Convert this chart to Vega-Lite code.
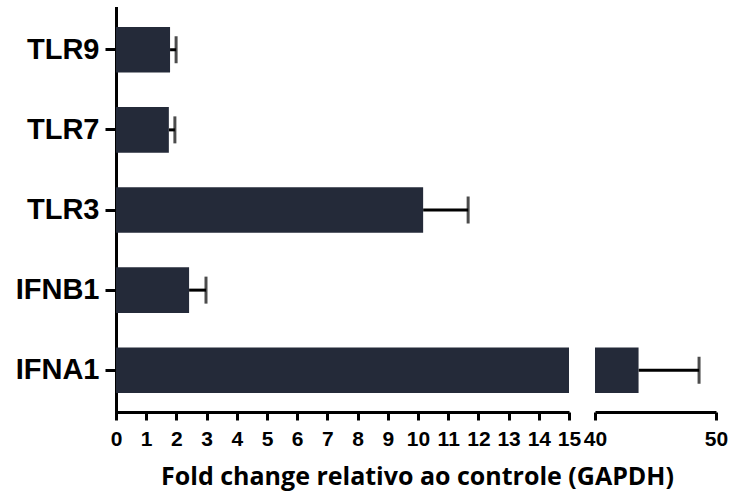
{
  "$schema": "https://vega.github.io/schema/vega-lite/v6.json",
  "background": "white",
  "padding": {"left": 15, "top": 8, "right": 5, "bottom": 5},
  "spacing": 26,
  "bounds": "flush",
  "data": {
    "values": [
      {"gene": "TLR9", "value": 1.79, "upper": 1.99},
      {"gene": "TLR7", "value": 1.75, "upper": 1.95},
      {"gene": "TLR3", "value": 10.17, "upper": 11.66},
      {"gene": "IFNB1", "value": 2.42, "upper": 2.98},
      {"gene": "IFNA1", "value": 43.6, "upper": 48.6}
    ]
  },
  "config": {
    "view": {"stroke": null},
    "axis": {"grid": false, "domainColor": "black", "tickColor": "black", "domainWidth": 3, "tickWidth": 3, "labelColor": "black", "titleColor": "black", "labelOverlap": false}
  },
  "hconcat": [
    {
      "width": 453,
      "height": 404,
      "encoding": {
        "y": {
          "field": "gene", "type": "nominal",
          "sort": ["TLR9", "TLR7", "TLR3", "IFNB1", "IFNA1"],
          "scale": {"paddingInner": 0.43, "paddingOuter": 0.236},
          "axis": {"title": null, "labelFont": "Liberation Sans", "labelFontWeight": "bold", "labelFontSize": 29, "tickSize": 11, "labelPadding": 6, "domainCap": "square"}
        }
      },
      "layer": [
        {
          "mark": {"type": "rule", "color": "black", "strokeWidth": 3, "clip": true},
          "encoding": {
            "x": {"field": "value", "type": "quantitative", "scale": {"domain": [0, 15], "nice": false, "zero": false},
              "axis": {"values": [0,1,2,3,4,5,6,7,8,9,10,11,12,13,14,15], "labelFont": "Liberation Sans", "labelFontWeight": "bold", "labelFontSize": 21, "tickSize": 8, "labelPadding": 8, "labelFlush": false, "labelOverlap": false,
                "title": "Fold change relativo ao controle (GAPDH)", "titleFont": "Open Sans", "titleFontWeight": "bold", "titleFontSize": 25, "titleX": 301, "titleY": 72, "titleBaseline": "alphabetic", "titleAlign": "center", "titleAnchor": null}},
            "x2": {"field": "upper"}
          }
        },
        {
          "mark": {"type": "bar", "color": "#242a39", "clip": true},
          "encoding": {
            "x": {"field": "value", "type": "quantitative", "scale": {"domain": [0, 15], "nice": false, "zero": false},
              "axis": {"values": [0,1,2,3,4,5,6,7,8,9,10,11,12,13,14,15], "labelFont": "Liberation Sans", "labelFontWeight": "bold", "labelFontSize": 21, "tickSize": 8, "labelPadding": 8, "labelFlush": false, "labelOverlap": false,
                "title": "Fold change relativo ao controle (GAPDH)", "titleFont": "Open Sans", "titleFontWeight": "bold", "titleFontSize": 25, "titleX": 301, "titleY": 72, "titleBaseline": "alphabetic", "titleAlign": "center", "titleAnchor": null}}
          }
        },
        {
          "mark": {"type": "tick", "color": "black", "size": 27, "thickness": 3, "clip": true},
          "encoding": {
            "x": {"field": "upper", "type": "quantitative", "scale": {"domain": [0, 15], "nice": false, "zero": false},
              "axis": {"values": [0,1,2,3,4,5,6,7,8,9,10,11,12,13,14,15], "labelFont": "Liberation Sans", "labelFontWeight": "bold", "labelFontSize": 21, "tickSize": 8, "labelPadding": 8, "labelFlush": false, "labelOverlap": false,
                "title": "Fold change relativo ao controle (GAPDH)", "titleFont": "Open Sans", "titleFontWeight": "bold", "titleFontSize": 25, "titleX": 301, "titleY": 72, "titleBaseline": "alphabetic", "titleAlign": "center", "titleAnchor": null}}
          }
        }
      ]
    },
    {
      "width": 121,
      "height": 404,
      "encoding": {
        "y": {
          "field": "gene", "type": "nominal",
          "sort": ["TLR9", "TLR7", "TLR3", "IFNB1", "IFNA1"],
          "scale": {"paddingInner": 0.43, "paddingOuter": 0.236},
          "axis": null
        }
      },
      "layer": [
        {
          "mark": {"type": "rule", "color": "black", "strokeWidth": 3, "clip": true},
          "encoding": {
            "x": {"field": "value", "type": "quantitative", "scale": {"domain": [40, 50], "nice": false, "zero": false},
              "axis": {"values": [40, 50], "labelFont": "Liberation Sans", "labelFontWeight": "bold", "labelFontSize": 21, "tickSize": 8, "labelPadding": 8, "labelFlush": false, "title": null}},
            "x2": {"field": "upper"}
          }
        },
        {
          "mark": {"type": "bar", "color": "#242a39", "clip": true},
          "encoding": {
            "x": {"field": "value", "type": "quantitative", "scale": {"domain": [40, 50], "nice": false, "zero": false},
              "axis": {"values": [40, 50], "labelFont": "Liberation Sans", "labelFontWeight": "bold", "labelFontSize": 21, "tickSize": 8, "labelPadding": 8, "labelFlush": false, "title": null}}
          }
        },
        {
          "mark": {"type": "tick", "color": "black", "size": 27, "thickness": 3, "clip": true},
          "encoding": {
            "x": {"field": "upper", "type": "quantitative", "scale": {"domain": [40, 50], "nice": false, "zero": false},
              "axis": {"values": [40, 50], "labelFont": "Liberation Sans", "labelFontWeight": "bold", "labelFontSize": 21, "tickSize": 8, "labelPadding": 8, "labelFlush": false, "title": null}}
          }
        }
      ]
    }
  ]
}
